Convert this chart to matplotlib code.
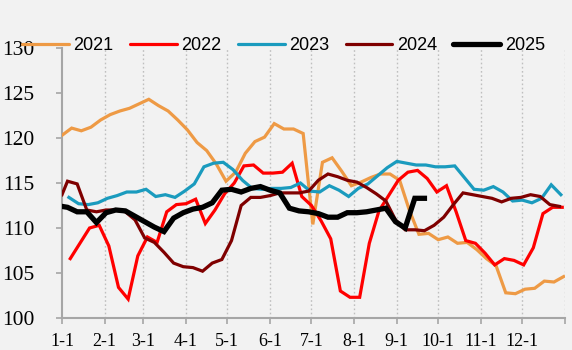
import numpy as np
import matplotlib
matplotlib.use("Agg")
import matplotlib.pyplot as plt

# ---- data ----
month_labels = ["1-1", "2-1", "3-1", "4-1", "5-1", "6-1", "7-1", "8-1", "9-1", "10-1", "11-1", "12-1"]
month_start_days = [0, 31, 59, 90, 120, 151, 181, 212, 243, 273, 304, 334, 365]

v2021 = [120.3, 121.1, 120.8, 121.2, 122.0, 122.6, 123.0, 123.3, 123.8, 124.3,
         123.6, 123.0, 122.0, 120.9, 119.5, 118.6, 117.1, 115.2, 116.2, 118.3,
         119.6, 120.1, 121.6, 121.0, 121.0, 120.5, 110.4, 117.3, 117.8, 116.3,
         114.7, 115.1, 115.6, 116.0, 116.0, 115.3, 112.0, 109.3, 109.4, 108.7,
         109.0, 108.3, 108.4, 107.6, 106.6, 105.8, 102.8, 102.7, 103.2, 103.3,
         104.1, 104.0, 104.6]
v2022 = [106.6, 108.3, 110.0, 110.3, 108.0, 103.4, 102.1, 106.9, 109.0, 108.4,
         111.8, 112.6, 112.7, 113.2, 110.5, 112.0, 113.8, 115.0, 116.9, 117.0,
         116.1, 116.1, 116.2, 117.2, 113.5, 112.5, 110.8, 108.8, 103.0, 102.3,
         102.3, 108.3, 111.9, 113.6, 115.3, 116.2, 116.4, 115.5, 114.0, 114.7,
         111.8, 108.6, 108.3, 107.2, 105.9, 106.6, 106.4, 105.9, 107.8, 111.6,
         112.3, 112.3]
v2023 = [113.4, 112.7, 112.6, 112.8, 113.3, 113.6, 114.0, 114.0, 114.3, 113.5,
         113.7, 113.4, 114.1, 114.9, 116.8, 117.2, 117.3, 116.5, 115.3, 114.4,
         114.3, 114.4, 114.4, 114.5, 115.0, 114.1, 114.0, 114.7, 114.2, 113.5,
         114.4, 114.9, 115.8, 116.7, 117.4, 117.2, 117.0, 117.0, 116.8, 116.8,
         116.9, 115.6, 114.3, 114.2, 114.6, 114.0, 113.0, 113.1, 112.8, 113.3,
         114.8, 113.7]
v2024 = [113.7, 115.2, 114.9, 112.0, 111.8, 112.0, 112.0, 111.8, 110.9, 108.9,
         108.4, 107.3, 106.1, 105.7, 105.6, 105.2, 106.1, 106.5, 108.6, 112.5,
         113.4, 113.4, 113.6, 113.9, 113.9, 113.9, 114.1, 115.3, 116.0, 115.7,
         115.3, 115.1, 114.5, 113.8, 113.0, 110.9, 109.8, 109.8, 109.7, 110.3,
         111.2, 112.6, 113.9, 113.7, 113.5, 113.3, 112.9, 113.3, 113.4, 113.7,
         113.5, 112.6, 112.4]
v2025 = [112.4, 112.3, 111.8, 111.8, 110.6, 111.7, 112.0, 111.9, 111.3, 110.7,
         110.1, 109.6, 111.1, 111.7, 112.1, 112.3, 112.8, 114.2, 114.3, 114.0,
         114.4, 114.6, 114.2, 113.9, 112.2, 111.9, 111.8, 111.6, 111.2, 111.2,
         111.7, 111.7, 111.8, 112.0, 112.2, 110.7, 110.0, 113.3, 113.3]

years = ["2021", "2022", "2023", "2024", "2025"]
series = [v2021, v2022, v2023, v2024, v2025]
# first weekly report day (days after Jan 1) of each year
first_day = [0, 6, 5, 4, 4]
extra_jan1 = [False, False, False, True, True]  # series that also report on Jan 1

def day_axis(n, start, jan1):
    if jan1:
        return np.concatenate([[0], start + 7 * np.arange(n - 1)])
    return start + 7 * np.arange(n)

colors = ["#EE9A45", "#FF0000", "#1A9BBE", "#7F0000", "#000000"]
widths = [2.3, 2.3, 2.3, 2.3, 3.8]

bg = "#F2F2F2"
fig = plt.figure(figsize=(5.72, 3.50), dpi=100, facecolor=bg)
ax = fig.add_axes([62 / 572, 1 - 318 / 350, (565 - 62) / 572, (318 - 48) / 350])
ax.set_facecolor(bg)

for yr, vals, c, lw, st, j1 in zip(years, series, colors, widths, first_day, extra_jan1):
    x = day_axis(len(vals), st, j1)
    ax.plot(x, vals, color=c, lw=lw, label=yr, solid_joinstyle="miter", zorder=3)

ax.set_xlim(0, 365)
ax.set_ylim(100, 130)
ax.set_yticks(np.arange(100, 131, 5))
ax.set_xticks(month_start_days)
ax.set_xticklabels(month_labels + [""])

for d in month_start_days[1:]:
    ax.axvline(d, color="#BFBFBF", lw=1.0, ls=(0, (1.2, 1.8)), zorder=1)

for s in ["top", "right"]:
    ax.spines[s].set_visible(False)
for s in ["left", "bottom"]:
    ax.spines[s].set_color("#A6A6A6")
    ax.spines[s].set_linewidth(1.5)

ax.tick_params(axis="y", direction="out", length=4, width=1.2, color="#A6A6A6", pad=16)
ax.tick_params(axis="x", direction="out", length=4, width=1.2, color="#A6A6A6", pad=7)
for lbl in ax.get_yticklabels():
    lbl.set_fontfamily("Liberation Serif")
    lbl.set_fontsize(15.5)
for lbl in ax.get_xticklabels():
    lbl.set_fontfamily("Liberation Serif")
    lbl.set_fontsize(13)

leg = fig.legend(loc="center left", bbox_to_anchor=(22 / 572, 1 - 46 / 350), ncol=5,
                 frameon=False, borderpad=0, borderaxespad=0, handlelength=2.6,
                 handletextpad=0.25, columnspacing=0.9,
                 prop={"family": "Liberation Sans", "size": 13})
for h in leg.get_lines():
    h.set_solid_capstyle("round")

fig.savefig("out.png", dpi=100, facecolor=bg)
